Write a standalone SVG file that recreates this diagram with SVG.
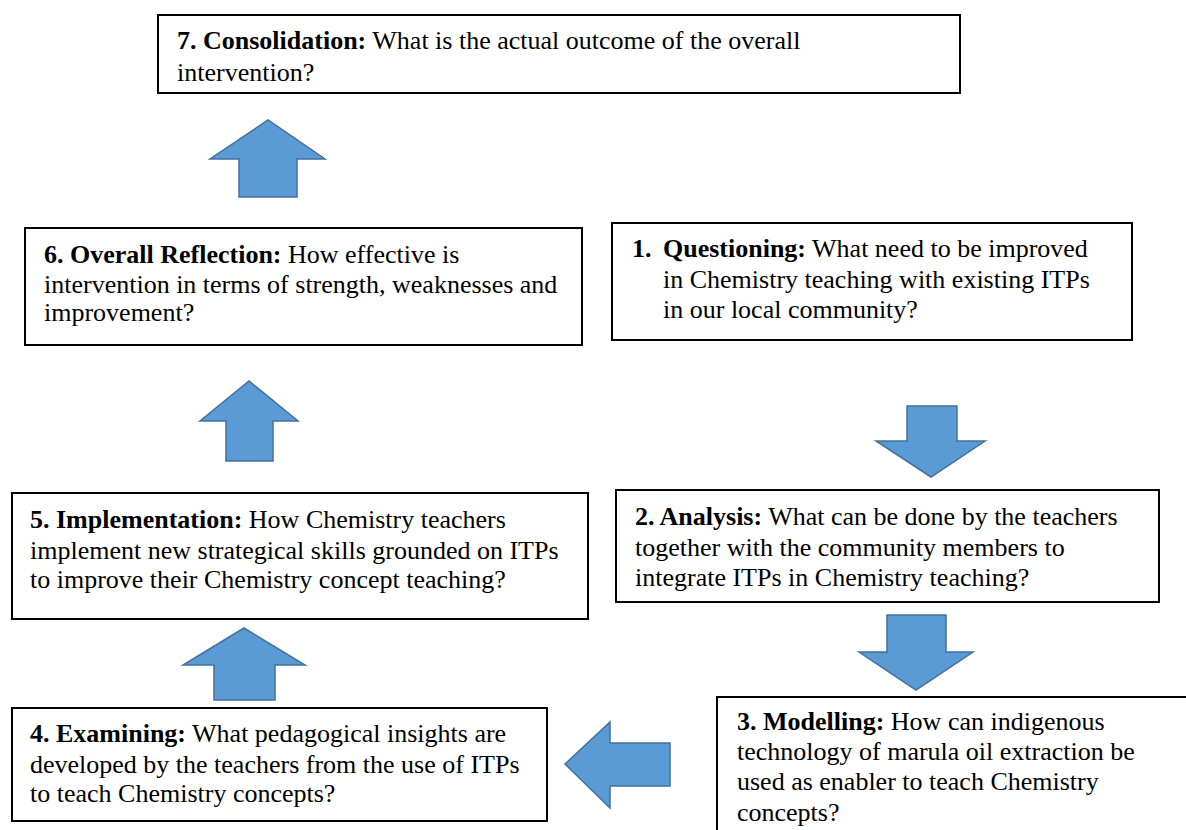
<svg xmlns="http://www.w3.org/2000/svg" width="1186" height="830" viewBox="0 0 1186 830">
  <style>
    .box { fill: #ffffff; stroke: #000000; stroke-width: 2; }
    .txt { font-family: 'Liberation Serif', 'Times New Roman', serif; font-size: 26px; fill: #000000; }
    .b { font-weight: bold; }
    .arrow { fill: #5B9BD5; stroke: #41719C; stroke-width: 1.5; stroke-linejoin: miter; }
  </style>
  <rect width="1186" height="830" fill="#ffffff"/>

  <!-- block arrows between the stages -->
  <g id="connectors">
    <!-- 1 -> 2 -->
    <polygon class="arrow" points="907,406 957,406 957,441 985,441 931,477 876,441 907,441"/>
    <!-- 2 -> 3 -->
    <polygon class="arrow" points="887,615 946,615 946,652 973,652 916,690 859,652 887,652"/>
    <!-- 3 -> 4 -->
    <polygon class="arrow" points="670,743 610,743 610,722 565,764 610,808 610,786 670,786"/>
    <!-- 4 -> 5 -->
    <polygon class="arrow" points="214,700 275,700 275,665 305,665 244,628 183,665 214,665"/>
    <!-- 5 -> 6 -->
    <polygon class="arrow" points="226,461 273,461 273,421 298,421 249,381 200,421 226,421"/>
    <!-- 6 -> 7 -->
    <polygon class="arrow" points="239,197 297,197 297,159 325,159 268,120 210,159 239,159"/>
  </g>

  <g id="node-7">
    <rect class="box" x="158" y="15" width="802" height="78"/>
    <text class="txt" x="177" y="49"><tspan class="b">7. Consolidation:</tspan> What is the actual outcome of the overall</text>
    <text class="txt" x="177" y="81">intervention?</text>
  </g>

  <g id="node-6">
    <rect class="box" x="25" y="228" width="557" height="117"/>
    <text class="txt" x="44" y="263"><tspan class="b">6. Overall Reflection:</tspan> How effective is</text>
    <text class="txt" x="44" y="293">intervention in terms of strength, weaknesses and</text>
    <text class="txt" x="44" y="321">improvement?</text>
  </g>

  <g id="node-1">
    <rect class="box" x="612" y="223" width="520" height="117"/>
    <text class="txt b" x="632" y="257">1.</text>
    <text class="txt" x="663" y="257"><tspan class="b">Questioning:</tspan> What need to be improved</text>
    <text class="txt" x="663" y="288">in Chemistry teaching with existing ITPs</text>
    <text class="txt" x="663" y="318">in our local community?</text>
  </g>

  <g id="node-2">
    <rect class="box" x="616" y="490" width="543" height="112"/>
    <text class="txt" x="635" y="525"><tspan class="b">2. Analysis:</tspan> What can be done by the teachers</text>
    <text class="txt" x="635" y="556">together with the community members to</text>
    <text class="txt" x="635" y="586">integrate ITPs in Chemistry teaching?</text>
  </g>

  <g id="node-3">
    <rect class="box" x="717" y="697" width="500" height="160"/>
    <text class="txt" x="737" y="730"><tspan class="b">3. Modelling:</tspan> How can indigenous</text>
    <text class="txt" x="737" y="760">technology of marula oil extraction be</text>
    <text class="txt" x="737" y="790">used as enabler to teach Chemistry</text>
    <text class="txt" x="737" y="821">concepts?</text>
  </g>

  <g id="node-5">
    <rect class="box" x="12" y="493" width="576" height="126"/>
    <text class="txt" x="30" y="528"><tspan class="b">5. Implementation:</tspan> How Chemistry teachers</text>
    <text class="txt" x="30" y="559">implement new strategical skills grounded on ITPs</text>
    <text class="txt" x="30" y="588">to improve their Chemistry concept teaching?</text>
  </g>

  <g id="node-4">
    <rect class="box" x="12" y="708" width="535" height="113"/>
    <text class="txt" x="30" y="742"><tspan class="b">4. Examining:</tspan> What pedagogical insights are</text>
    <text class="txt" x="30" y="773">developed by the teachers from the use of ITPs</text>
    <text class="txt" x="30" y="802">to teach Chemistry concepts?</text>
  </g>
</svg>
